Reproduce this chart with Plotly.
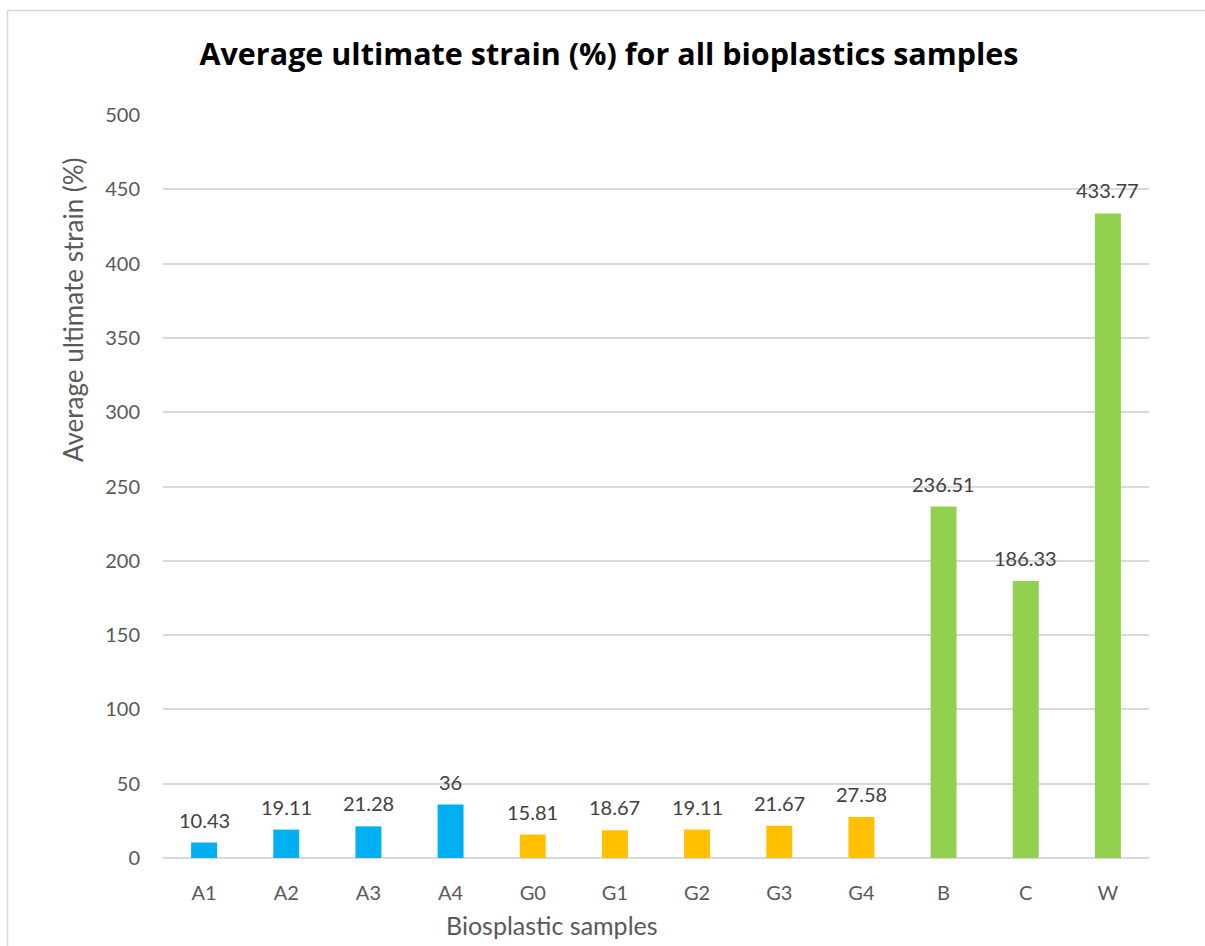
import plotly.graph_objects as go

# Sample groups and their average ultimate strain (%)
samples = ["A1", "A2", "A3", "A4", "G0", "G1", "G2", "G3", "G4", "B", "C", "W"]
strain = [10.43, 19.11, 21.28, 36, 15.81, 18.67, 19.11, 21.67, 27.58, 236.51, 186.33, 433.77]
labels = ["10.43", "19.11", "21.28", "36", "15.81", "18.67", "19.11", "21.67", "27.58",
          "236.51", "186.33", "433.77"]
y_ticks = [0, 50, 100, 150, 200, 250, 300, 350, 400, 450, 500]

BLUE, YELLOW, GREEN = "#00B0F0", "#FFC000", "#92D050"
bar_colors = [BLUE] * 4 + [YELLOW] * 5 + [GREEN] * 3

FONT = "Lato, 'Open Sans', sans-serif"
TITLE_FONT = "'Open Sans', Lato, sans-serif"
W, H = 1205, 946
L, R, T, B = 163, 56, 115, 88
PW, PH = W - L - R, H - T - B


def px_x(x):
    """pixel column -> paper x"""
    return (x - L) / PW


def px_y(y):
    """pixel row -> paper y"""
    return (H - B - y) / PH


fig = go.Figure()
fig.add_trace(go.Bar(
    x=samples, y=strain,
    marker=dict(color=bar_colors, line=dict(width=0)),
    width=0.316,
    hoverinfo="x+y",
))

# value labels above each bar
for s, v, t in zip(samples, strain, labels):
    fig.add_annotation(x=s, y=v, text=t, showarrow=False, yanchor="bottom",
                       yshift=9, font=dict(family=FONT, size=20, color="#404040"))

# axis titles
fig.add_annotation(xref="paper", yref="paper", x=px_x(552), y=px_y(925),
                   text="Biosplastic samples", showarrow=False,
                   xanchor="center", yanchor="middle",
                   font=dict(family=FONT, size=25, color="#595959"))
fig.add_annotation(xref="paper", yref="paper", x=px_x(73), y=px_y(310),
                   text="Average ultimate strain (%)", showarrow=False, textangle=-90,
                   xanchor="center", yanchor="middle",
                   font=dict(family=FONT, size=26, color="#595959"))

# chart frame
fig.add_shape(type="rect", xref="paper", yref="paper",
              x0=px_x(7.5), x1=px_x(W + 20), y0=px_y(H + 20), y1=px_y(10.5),
              line=dict(color="#D9D9D9", width=1.5), fillcolor="rgba(0,0,0,0)", layer="below")

fig.update_layout(
    width=W, height=H,
    margin=dict(l=L, r=R, t=T, b=B),
    paper_bgcolor="white", plot_bgcolor="white",
    showlegend=False,
    title=dict(text="<b>Average ultimate strain (%) for all bioplastics samples</b>",
               x=609 / W, xref="container", xanchor="center",
               y=1 - 54 / H, yref="container", yanchor="middle",
               font=dict(family=TITLE_FONT, size=30.5, color="#000000")),
    xaxis=dict(type="category", showgrid=False, showline=False, ticks="",
               tickfont=dict(family=FONT, size=20, color="#595959"),
               ticklabelstandoff=21),
    yaxis=dict(range=[0, 500], tickvals=y_ticks, showgrid=True, gridcolor="#D9D9D9",
               gridwidth=1.5, zeroline=True, zerolinecolor="#D9D9D9", zerolinewidth=2,
               showline=False, ticks="",
               tickfont=dict(family=FONT, size=20, color="#595959"),
               ticklabelstandoff=22),
    bargap=0.684,
)

fig.write_html("out.html")
